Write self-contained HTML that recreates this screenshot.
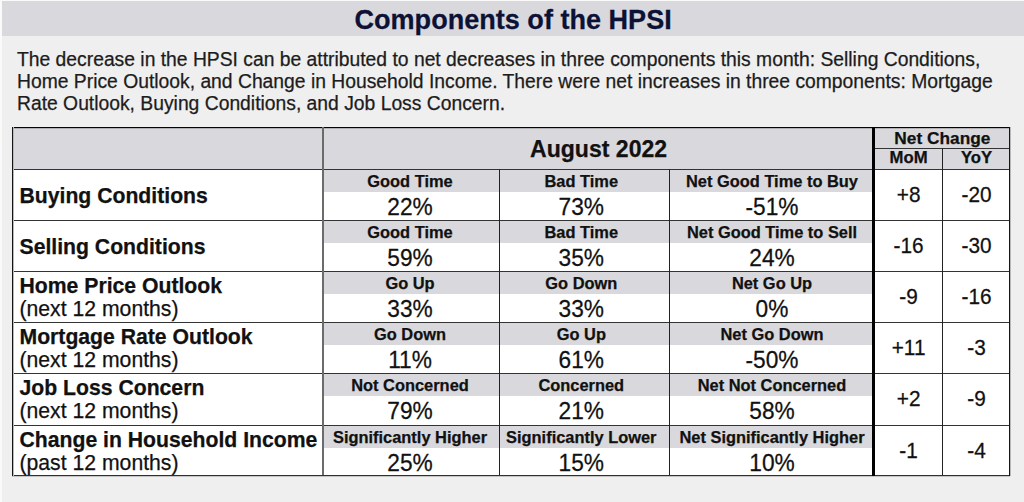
<!DOCTYPE html>
<html><head><meta charset="utf-8"><style>
html,body{margin:0;padding:0;width:1024px;height:502px;overflow:hidden;background:#efefef;}
body{position:relative;font-family:"Liberation Sans",sans-serif;}
.r{position:absolute;}
.t{position:absolute;white-space:nowrap;line-height:1;-webkit-text-stroke:0.25px currentColor;}
.c{width:600px;text-align:center;}
</style></head><body>
<div class="r" style="left:0px;top:0px;width:1024px;height:502px;background:#efefef"></div>
<div class="r" style="left:0px;top:0px;width:2px;height:502px;background:#fafafa"></div>
<div class="r" style="left:0px;top:0px;width:1024px;height:1px;background:#fafafa"></div>
<div class="r" style="left:2px;top:1px;width:1022px;height:35px;background:#d9d8dc"></div>
<div class="t c" style="left:213.10px;top:6.46px;font-size:27.07px;font-weight:bold;color:#0b1236;transform-origin:0 23.04px;transform:scaleY(1.03);">Components of the HPSI</div>
<div class="t" style="left:17.00px;top:49.55px;font-size:19.31px;color:#1c1c1c;">The decrease in the HPSI can be attributed to net decreases in three components this month: Selling Conditions,</div>
<div class="t" style="left:17.00px;top:71.64px;font-size:19.31px;color:#1c1c1c;">Home Price Outlook, and Change in Household Income. There were net increases in three components: Mortgage</div>
<div class="t" style="left:17.00px;top:93.84px;font-size:19.31px;color:#1c1c1c;">Rate Outlook, Buying Conditions, and Job Loss Concern.</div>
<div class="r" style="left:12px;top:127px;width:997px;height:348px;background:#fff"></div>
<div class="r" style="left:12px;top:127px;width:997px;height:42px;background:#d9d8dc"></div>
<div class="r" style="left:324px;top:169px;width:548px;height:23px;background:#d9d8dc"></div>
<div class="r" style="left:324px;top:220px;width:548px;height:23px;background:#d9d8dc"></div>
<div class="r" style="left:324px;top:271px;width:548px;height:23px;background:#d9d8dc"></div>
<div class="r" style="left:324px;top:322px;width:548px;height:23px;background:#d9d8dc"></div>
<div class="r" style="left:324px;top:373px;width:548px;height:23px;background:#d9d8dc"></div>
<div class="r" style="left:324px;top:425px;width:548px;height:23px;background:#d9d8dc"></div>
<div class="r" style="left:12px;top:127px;width:998px;height:1px;background:#050505"></div>
<div class="r" style="left:12px;top:128px;width:998px;height:1px;background:#b0b0b2"></div>
<div class="r" style="left:12px;top:475px;width:998px;height:1px;background:#303030"></div>
<div class="r" style="left:12px;top:476px;width:998px;height:1px;background:#c4c4c4"></div>
<div class="r" style="left:12px;top:169px;width:997px;height:1px;background:#333"></div>
<div class="r" style="left:12px;top:220px;width:997px;height:1px;background:#333"></div>
<div class="r" style="left:12px;top:271px;width:997px;height:1px;background:#333"></div>
<div class="r" style="left:12px;top:322px;width:997px;height:1px;background:#333"></div>
<div class="r" style="left:12px;top:373px;width:997px;height:1px;background:#333"></div>
<div class="r" style="left:12px;top:425px;width:997px;height:1px;background:#333"></div>
<div class="r" style="left:872px;top:148px;width:137px;height:1px;background:#333"></div>
<div class="r" style="left:12px;top:127px;width:1px;height:349px;background:#151515"></div>
<div class="r" style="left:13px;top:127px;width:1px;height:349px;background:#b8b8b8"></div>
<div class="r" style="left:1009px;top:127px;width:1px;height:349px;background:#151515"></div>
<div class="r" style="left:1010px;top:127px;width:1px;height:349px;background:#b8b8b8"></div>
<div class="r" style="left:322px;top:127px;width:1px;height:348px;background:#6b6b6b"></div>
<div class="r" style="left:323px;top:127px;width:1px;height:348px;background:#6b6b6b"></div>
<div class="r" style="left:499px;top:169px;width:1px;height:306px;background:#222"></div>
<div class="r" style="left:669px;top:169px;width:1px;height:306px;background:#222"></div>
<div class="r" style="left:942px;top:148px;width:1px;height:327px;background:#222"></div>
<div class="r" style="left:872px;top:127px;width:1px;height:349px;background:#000"></div>
<div class="r" style="left:873px;top:127px;width:1px;height:349px;background:#000"></div>
<div class="r" style="left:874px;top:127px;width:1px;height:349px;background:#000"></div>
<div class="t c" style="left:298.59px;top:137.97px;font-size:23.05px;font-weight:bold;color:#111;">August 2022</div>
<div class="t c" style="left:642.39px;top:129.75px;font-size:17.3px;font-weight:bold;color:#111;">Net Change</div>
<div class="t c" style="left:608.59px;top:150.45px;font-size:16.7px;font-weight:bold;color:#111;">MoM</div>
<div class="t c" style="left:676.51px;top:150.45px;font-size:16.7px;font-weight:bold;color:#111;">YoY</div>
<div class="t" style="left:19.50px;top:184.60px;font-size:21.2px;font-weight:bold;color:#111;">Buying Conditions</div>
<div class="t c" style="left:109.99px;top:172.99px;font-size:16.42px;font-weight:bold;color:#111;">Good Time</div>
<div class="t c" style="left:109.99px;top:196.45px;font-size:22.7px;color:#111;transform-origin:0 19.35px;transform:scaleY(1.03);">22%</div>
<div class="t c" style="left:281.30px;top:172.99px;font-size:16.42px;font-weight:bold;color:#111;">Bad Time</div>
<div class="t c" style="left:281.29px;top:196.45px;font-size:22.7px;color:#111;transform-origin:0 19.35px;transform:scaleY(1.03);">73%</div>
<div class="t c" style="left:472.00px;top:172.99px;font-size:16.42px;font-weight:bold;color:#111;">Net Good Time to Buy</div>
<div class="t c" style="left:471.99px;top:196.45px;font-size:22.7px;color:#111;transform-origin:0 19.35px;transform:scaleY(1.03);">-51%</div>
<div class="t c" style="left:608.60px;top:185.10px;font-size:20.8px;color:#111;transform-origin:0 17.90px;transform:scaleY(1.03);">+8</div>
<div class="t c" style="left:676.50px;top:185.10px;font-size:20.8px;color:#111;transform-origin:0 17.90px;transform:scaleY(1.03);">-20</div>
<div class="t" style="left:19.50px;top:235.60px;font-size:21.2px;font-weight:bold;color:#111;">Selling Conditions</div>
<div class="t c" style="left:109.99px;top:223.99px;font-size:16.42px;font-weight:bold;color:#111;">Good Time</div>
<div class="t c" style="left:109.99px;top:247.45px;font-size:22.7px;color:#111;transform-origin:0 19.35px;transform:scaleY(1.03);">59%</div>
<div class="t c" style="left:281.30px;top:223.99px;font-size:16.42px;font-weight:bold;color:#111;">Bad Time</div>
<div class="t c" style="left:281.29px;top:247.45px;font-size:22.7px;color:#111;transform-origin:0 19.35px;transform:scaleY(1.03);">35%</div>
<div class="t c" style="left:472.00px;top:223.99px;font-size:16.42px;font-weight:bold;color:#111;">Net Good Time to Sell</div>
<div class="t c" style="left:471.99px;top:247.45px;font-size:22.7px;color:#111;transform-origin:0 19.35px;transform:scaleY(1.03);">24%</div>
<div class="t c" style="left:608.60px;top:236.10px;font-size:20.8px;color:#111;transform-origin:0 17.90px;transform:scaleY(1.03);">-16</div>
<div class="t c" style="left:676.50px;top:236.10px;font-size:20.8px;color:#111;transform-origin:0 17.90px;transform:scaleY(1.03);">-30</div>
<div class="t" style="left:19.50px;top:274.50px;font-size:21.2px;font-weight:bold;color:#111;">Home Price Outlook</div>
<div class="t" style="left:19.50px;top:298.20px;font-size:21.2px;color:#111;">(next 12 months)</div>
<div class="t c" style="left:110.00px;top:274.99px;font-size:16.42px;font-weight:bold;color:#111;">Go Up</div>
<div class="t c" style="left:109.99px;top:298.45px;font-size:22.7px;color:#111;transform-origin:0 19.35px;transform:scaleY(1.03);">33%</div>
<div class="t c" style="left:281.31px;top:274.99px;font-size:16.42px;font-weight:bold;color:#111;">Go Down</div>
<div class="t c" style="left:281.29px;top:298.45px;font-size:22.7px;color:#111;transform-origin:0 19.35px;transform:scaleY(1.03);">33%</div>
<div class="t c" style="left:471.99px;top:274.99px;font-size:16.42px;font-weight:bold;color:#111;">Net Go Up</div>
<div class="t c" style="left:472.00px;top:298.45px;font-size:22.7px;color:#111;transform-origin:0 19.35px;transform:scaleY(1.03);">0%</div>
<div class="t c" style="left:608.59px;top:287.10px;font-size:20.8px;color:#111;transform-origin:0 17.90px;transform:scaleY(1.03);">-9</div>
<div class="t c" style="left:676.50px;top:287.10px;font-size:20.8px;color:#111;transform-origin:0 17.90px;transform:scaleY(1.03);">-16</div>
<div class="t" style="left:19.50px;top:325.50px;font-size:21.2px;font-weight:bold;color:#111;">Mortgage Rate Outlook</div>
<div class="t" style="left:19.50px;top:349.20px;font-size:21.2px;color:#111;">(next 12 months)</div>
<div class="t c" style="left:110.01px;top:325.99px;font-size:16.42px;font-weight:bold;color:#111;">Go Down</div>
<div class="t c" style="left:110.00px;top:349.45px;font-size:22.7px;color:#111;transform-origin:0 19.35px;transform:scaleY(1.03);">11%</div>
<div class="t c" style="left:281.30px;top:325.99px;font-size:16.42px;font-weight:bold;color:#111;">Go Up</div>
<div class="t c" style="left:281.29px;top:349.45px;font-size:22.7px;color:#111;transform-origin:0 19.35px;transform:scaleY(1.03);">61%</div>
<div class="t c" style="left:472.00px;top:325.99px;font-size:16.42px;font-weight:bold;color:#111;">Net Go Down</div>
<div class="t c" style="left:471.99px;top:349.45px;font-size:22.7px;color:#111;transform-origin:0 19.35px;transform:scaleY(1.03);">-50%</div>
<div class="t c" style="left:608.60px;top:338.10px;font-size:20.8px;color:#111;transform-origin:0 17.90px;transform:scaleY(1.03);">+11</div>
<div class="t c" style="left:676.49px;top:338.10px;font-size:20.8px;color:#111;transform-origin:0 17.90px;transform:scaleY(1.03);">-3</div>
<div class="t" style="left:19.50px;top:376.50px;font-size:21.2px;font-weight:bold;color:#111;">Job Loss Concern</div>
<div class="t" style="left:19.50px;top:400.20px;font-size:21.2px;color:#111;">(next 12 months)</div>
<div class="t c" style="left:110.00px;top:376.99px;font-size:16.42px;font-weight:bold;color:#111;">Not Concerned</div>
<div class="t c" style="left:109.99px;top:400.45px;font-size:22.7px;color:#111;transform-origin:0 19.35px;transform:scaleY(1.03);">79%</div>
<div class="t c" style="left:281.31px;top:376.99px;font-size:16.42px;font-weight:bold;color:#111;">Concerned</div>
<div class="t c" style="left:281.29px;top:400.45px;font-size:22.7px;color:#111;transform-origin:0 19.35px;transform:scaleY(1.03);">21%</div>
<div class="t c" style="left:471.99px;top:376.99px;font-size:16.42px;font-weight:bold;color:#111;">Net Not Concerned</div>
<div class="t c" style="left:471.99px;top:400.45px;font-size:22.7px;color:#111;transform-origin:0 19.35px;transform:scaleY(1.03);">58%</div>
<div class="t c" style="left:608.60px;top:389.10px;font-size:20.8px;color:#111;transform-origin:0 17.90px;transform:scaleY(1.03);">+2</div>
<div class="t c" style="left:676.49px;top:389.10px;font-size:20.8px;color:#111;transform-origin:0 17.90px;transform:scaleY(1.03);">-9</div>
<div class="t" style="left:19.50px;top:428.50px;font-size:21.2px;font-weight:bold;color:#111;">Change in Household Income</div>
<div class="t" style="left:19.50px;top:452.20px;font-size:21.2px;color:#111;">(past 12 months)</div>
<div class="t c" style="left:110.00px;top:428.99px;font-size:16.42px;font-weight:bold;color:#111;">Significantly Higher</div>
<div class="t c" style="left:109.99px;top:452.45px;font-size:22.7px;color:#111;transform-origin:0 19.35px;transform:scaleY(1.03);">25%</div>
<div class="t c" style="left:281.31px;top:428.99px;font-size:16.42px;font-weight:bold;color:#111;">Significantly Lower</div>
<div class="t c" style="left:281.29px;top:452.45px;font-size:22.7px;color:#111;transform-origin:0 19.35px;transform:scaleY(1.03);">15%</div>
<div class="t c" style="left:472.00px;top:428.99px;font-size:16.42px;font-weight:bold;color:#111;">Net Significantly Higher</div>
<div class="t c" style="left:471.99px;top:452.45px;font-size:22.7px;color:#111;transform-origin:0 19.35px;transform:scaleY(1.03);">10%</div>
<div class="t c" style="left:608.59px;top:441.10px;font-size:20.8px;color:#111;transform-origin:0 17.90px;transform:scaleY(1.03);">-1</div>
<div class="t c" style="left:676.49px;top:441.10px;font-size:20.8px;color:#111;transform-origin:0 17.90px;transform:scaleY(1.03);">-4</div>
</body></html>
